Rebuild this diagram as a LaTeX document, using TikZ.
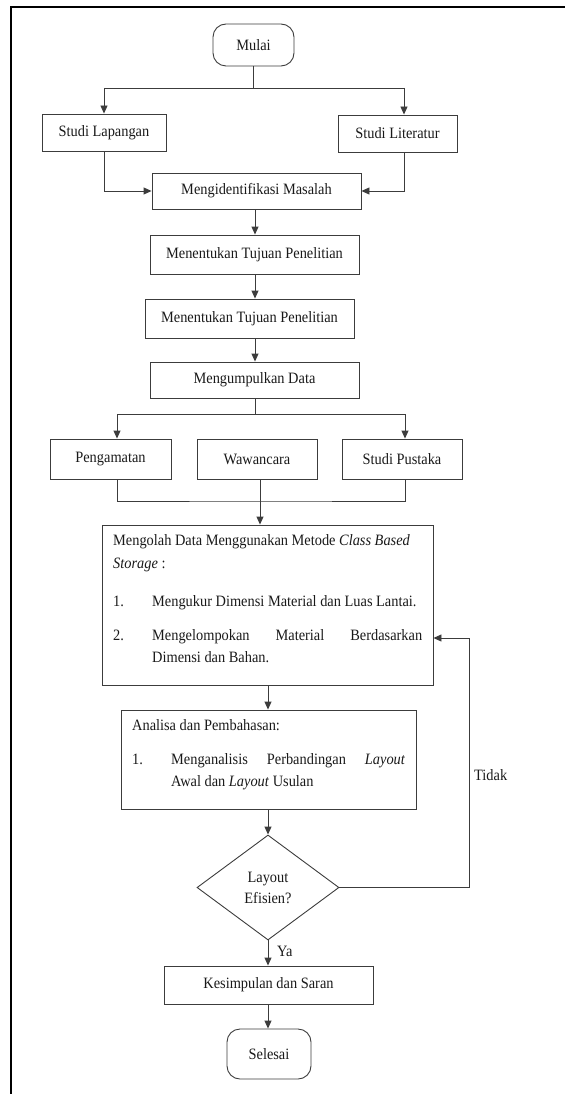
\documentclass[tikz,border=0pt]{standalone}
\usepackage{fontspec}
\setmainfont{Liberation Serif}[FakeStretch=0.91]
\usetikzlibrary{arrows.meta,shapes.geometric}
\definecolor{ink}{RGB}{25,25,25}
\definecolor{wire}{RGB}{60,60,60}
\begin{document}
\begin{tikzpicture}[x=1pt,y=-1pt,
  font=\fontsize{15.8}{21}\selectfont, text=ink,
  box/.style={draw=wire, line width=0.9pt, rectangle, inner sep=0pt, align=center},
  term/.style={box, rounded corners=13pt},
  decision/.style={draw=wire, line width=0.9pt, diamond, aspect=1.35, inner sep=0pt,
    minimum width=142pt, minimum height=105pt, align=center},
  arr/.style={draw=wire, line width=0.9pt, -{Triangle[length=8pt,width=7pt]}},
  ln/.style={draw=wire, line width=0.9pt},
  txt/.style={anchor=base west, inner sep=0pt},
  lbl/.style={anchor=west, inner sep=0pt}]
\useasboundingbox (0,0) rectangle (565,1094);
% frame
\draw[line width=1.6pt, black, line join=miter] (11,1094) -- (11,7) -- (565,7);

% nodes
\node[term, minimum width=81pt, minimum height=42pt] (start) at (253.5,45) {Mulai};
\node[box, minimum width=124pt, minimum height=37pt] (lap) at (104,132.5) {Studi Lapangan};
\node[box, minimum width=119pt, minimum height=37pt] (lit) at (397.5,133.5) {Studi Literatur};
\node[box, minimum width=209pt, minimum height=36pt] (ident) at (256.5,191) {Mengidentifikasi Masalah};
\node[box, minimum width=209pt, minimum height=39pt] (tuj1) at (254.5,254.5) {Menentukan Tujuan Penelitian};
\node[box, minimum width=209pt, minimum height=39pt] (tuj2) at (249.5,318.5) {Menentukan Tujuan Penelitian};
\node[box, minimum width=209pt, minimum height=36pt] (data) at (254.5,380) {Mengumpulkan Data};
\node[box, minimum width=121pt, minimum height=40pt] (peng) at (110.5,459) {Pengamatan};
\node[box, minimum width=120pt, minimum height=40pt] (waw) at (257,459) {Wawancara};
\node[box, minimum width=120pt, minimum height=40pt] (pus) at (402,459) {Studi Pustaka};

\node[box, minimum width=331pt, minimum height=160pt] (olah) at (267.5,605) {};
\node[txt] (olah1) at (113,545.5) {Mengolah Data Menggunakan Metode \textit{Class Based}};
\node[txt] (olah2) at (113,568) {\textit{Storage} :};
\node[txt] (olah3n) at (113,606.5) {1.};
\node[txt] (olah3) at (152,606.5) {Mengukur Dimensi Material dan Luas Lantai.};
\node[txt] (olah4n) at (113,640.5) {2.};
\node[txt] (olah4) at (152,640.5) {\makebox[270pt][s]{Mengelompokan Material Berdasarkan}};
\node[txt] (olah5) at (152,662) {Dimensi dan Bahan.};

\node[box, minimum width=295pt, minimum height=99pt] (ana) at (268.5,759.5) {};
\node[txt] (ana1) at (132,730) {Analisa dan Pembahasan:};
\node[txt] (ana2n) at (132,764) {1.};
\node[txt] (ana2) at (171,764) {\makebox[234pt][s]{Menganalisis Perbandingan \textit{Layout}}};
\node[txt] (ana3) at (171,786) {Awal dan \textit{Layout} Usulan};

\node[decision] (dec) at (268,887.5) {Layout\\Efisien?};
\node[box, minimum width=209pt, minimum height=38pt] (kes) at (268.5,985) {Kesimpulan dan Saran};
\node[term, minimum width=84pt, minimum height=50pt] (fin) at (269,1054) {Selesai};

\node[lbl] (tidak) at (474,775) {Tidak};
\node[lbl] (ya) at (277,951) {Ya};

% helper coordinates
\coordinate (j1) at (254,88);
\coordinate (litx) at (404,0);
\coordinate (sp) at (255,0);
\coordinate (j2) at (255,414);
\coordinate (px) at (117,0);
\coordinate (qx) at (405,0);
\coordinate (j3) at (260,501);
\coordinate (sp2) at (268,0);
\coordinate (fb) at (469,638);

% connectors
\draw[ln] (start.south) -- (start.south |- j1);
\draw[ln] (lap.north |- j1) -- (litx |- j1);
\draw[arr] (lap.north |- j1) -- (lap.north);
\draw[arr] (litx |- j1) -- (litx |- lit.north);
\draw[arr] (lap.south) |- (ident.west);
\draw[arr] (litx |- lit.south) |- (ident.east);
\draw[arr] (ident.south -| sp) -- (tuj1.north -| sp);
\draw[arr] (tuj1.south -| sp) -- (tuj2.north -| sp);
\draw[arr] (tuj2.south -| sp) -- (data.north -| sp);
\draw[ln] (data.south -| sp) -- (j2);
\draw[ln] (px |- j2) -- (qx |- j2);
\draw[arr] (px |- j2) -- (px |- peng.north);
\draw[arr] (qx |- j2) -- (qx |- pus.north);
\draw[ln] (px |- peng.south) |- (j3) -| (qx |- pus.south);
\draw[arr] (waw.south -| j3) -- (olah.north -| j3);
\draw[arr] (olah.south -| sp2) -- (ana.north -| sp2);
\draw[arr] (ana.south -| sp2) -- (dec.north);
\draw[arr] (dec.south) -- (kes.north -| dec.south);
\draw[arr] (kes.south -| dec.south) -- (fin.north -| dec.south);
\draw[arr] (dec.east) -| (fb) -- (olah.east |- fb);
\end{tikzpicture}
\end{document}
